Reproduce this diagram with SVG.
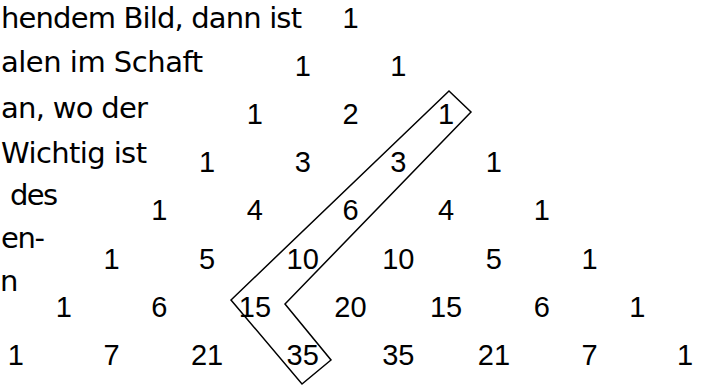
<svg xmlns="http://www.w3.org/2000/svg" width="704" height="387" viewBox="0 0 704 387">
<style>
.t{font-family:"DejaVu Sans","Liberation Sans",sans-serif;font-size:29px;fill:#000}
.n{font-family:"Liberation Sans",Arial,sans-serif;font-size:29px;fill:#000;text-anchor:middle}
.hs{fill:none;stroke:#000;stroke-width:1.5;stroke-linejoin:miter}
</style>
<rect width="704" height="387" fill="#fff"/>
<g id="paragraph">
<text class="t" x="1" y="28" textLength="301">hendem Bild, dann ist</text>
<text class="t" x="1" y="72" textLength="202">alen im Schaft</text>
<text class="t" x="1" y="118" textLength="147">an, wo der</text>
<text class="t" x="1" y="163" textLength="146">Wichtig ist</text>
<text class="t" x="10" y="205" textLength="48">des</text>
<text class="t" x="1" y="248" textLength="44">en-</text>
<text class="t" x="0" y="291">n</text>
</g>
<g id="triangle">
<g id="row0"><text class="n" x="350.5" y="27.5">1</text></g>
<g id="row1"><text class="n" x="302.7" y="75.7">1</text><text class="n" x="398.3" y="75.7">1</text></g>
<g id="row2"><text class="n" x="254.9" y="123.9">1</text><text class="n" x="350.5" y="123.9">2</text><text class="n" x="446.1" y="123.9">1</text></g>
<g id="row3"><text class="n" x="207.1" y="172.1">1</text><text class="n" x="302.7" y="172.1">3</text><text class="n" x="398.3" y="172.1">3</text><text class="n" x="493.9" y="172.1">1</text></g>
<g id="row4"><text class="n" x="159.3" y="220.3">1</text><text class="n" x="254.9" y="220.3">4</text><text class="n" x="350.5" y="220.3">6</text><text class="n" x="446.1" y="220.3">4</text><text class="n" x="541.7" y="220.3">1</text></g>
<g id="row5"><text class="n" x="111.5" y="268.5">1</text><text class="n" x="207.1" y="268.5">5</text><text class="n" x="302.7" y="268.5">10</text><text class="n" x="398.3" y="268.5">10</text><text class="n" x="493.9" y="268.5">5</text><text class="n" x="589.5" y="268.5">1</text></g>
<g id="row6"><text class="n" x="63.7" y="316.7">1</text><text class="n" x="159.3" y="316.7">6</text><text class="n" x="254.9" y="316.7">15</text><text class="n" x="350.5" y="316.7">20</text><text class="n" x="446.1" y="316.7">15</text><text class="n" x="541.7" y="316.7">6</text><text class="n" x="637.3" y="316.7">1</text></g>
<g id="row7"><text class="n" x="15.9" y="364.9">1</text><text class="n" x="111.5" y="364.9">7</text><text class="n" x="207.1" y="364.9">21</text><text class="n" x="302.7" y="364.9">35</text><text class="n" x="398.3" y="364.9">35</text><text class="n" x="493.9" y="364.9">21</text><text class="n" x="589.5" y="364.9">7</text><text class="n" x="685.1" y="364.9">1</text></g>
</g>
<g id="hockey-stick">
<polygon class="hs" points="449,91 471,112 285,304 331,360 302,384 231,300"/>
</g>
</svg>
